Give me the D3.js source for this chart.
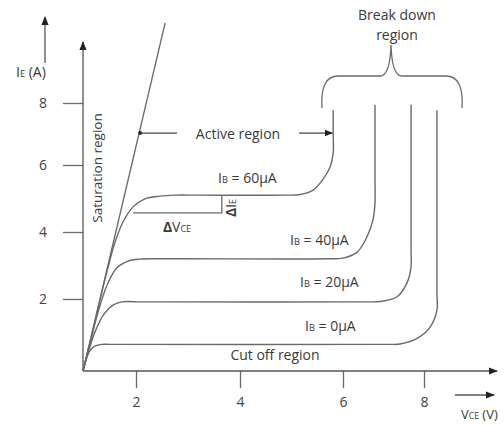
<!DOCTYPE html>
<html><head><meta charset="utf-8">
<script src="https://cdn.jsdelivr.net/npm/d3@7"></script>
<style>body{margin:0;background:#fff} text{font-family:"Open Sans",Lato,sans-serif}</style>
</head><body>
<svg id="c" width="504" height="426"></svg>
<script>
// ---- data ----
const xTicks = [2, 4, 6, 8];
const yTicks = [2, 4, 6, 8];
const seriesLabels = ["60μA", "40μA", "20μA", "0μA"];
const vceIB60 = [0,0.34,0.64,0.94,1.21,1.51,1.89,2.17,2.46,2.75,3.2,4.9,5.17,5.42,5.61,5.75,5.81,5.81,5.81];
const ieIB60  = [0,1.0,1.97,2.93,3.70,4.30,4.75,4.99,5.07,5.1,5.1,5.1,5.12,5.25,5.57,5.94,6.39,7.0,7.77];
const vceIB40 = [0,0.26,0.57,0.91,1.28,1.70,2.08,2.5,5.7,6.0,6.35,6.59,6.74,6.79,6.79,6.79];
const ieIB40  = [0,0.78,1.64,2.42,2.93,3.13,3.19,3.2,3.2,3.22,3.40,3.85,4.36,4.87,5.6,7.94];
const vceIB20 = [0,0.19,0.45,0.79,1.13,1.47,2.08,2.5,6.6,6.91,7.33,7.58,7.68,7.68,7.68];
const ieIB20  = [0,0.5,1.08,1.58,1.83,1.92,1.92,1.92,1.92,1.93,2.06,2.48,2.96,3.46,7.94];
const vceIB0  = [0,0.11,0.26,0.45,0.72,1.0,7.1,7.41,7.85,8.15,8.32,8.32,8.32];
const ieIB0   = [0,0.31,0.56,0.69,0.74,0.74,0.74,0.75,0.92,1.22,1.69,2.17,7.77];
const satVce = [0, 2.56];
const satIe  = [0, 10.58];
const dVceX = [1.89, 3.65]; const dVceY = 4.57; const dIeY = [4.57, 5.08];
const activeX = [2.08, 5.81]; const activeY = 7.03;

// ---- scales ----
const svg = d3.select("#c");
const x = d3.scaleLinear().domain([0,2,4,6,8]).range([83,136,240,343,424]);
const y = d3.scaleLinear().domain([0,2,4,6,8]).range([371,299,232,165,103]);
const ink = "#6a6a6a", txt = "#3a3a3a";

const defs = svg.append("defs");
defs.append("marker").attr("id","ah").attr("viewBox","0 0 10 10").attr("refX",9).attr("refY",5)
  .attr("markerWidth",7).attr("markerHeight",7).attr("orient","auto")
  .append("path").attr("d","M0,1L10,5L0,9Z").attr("fill","#222");

// axes
const ya = svg.append("g").attr("transform","translate(83,0)")
  .call(d3.axisLeft(y).tickValues(yTicks).tickSize(20).tickPadding(16).tickFormat(d3.format("d")));
const xa = svg.append("g").attr("transform","translate(0,371)")
  .call(d3.axisBottom(x).tickValues(xTicks).tickSize(17).tickPadding(9).tickFormat(d3.format("d")));
[ya, xa].forEach(g => {
  g.select(".domain").remove();
  g.selectAll(".tick line").attr("stroke", ink).attr("stroke-width", 1.3);
  g.selectAll(".tick text").attr("fill", "#444").attr("font-size", 14).attr("font-family","'Open Sans'");
});
svg.append("line").attr("x1",x(0)).attr("y1",y(0)).attr("x2",x(0)).attr("y2",42)
  .attr("stroke","#555").attr("stroke-width",1.3).attr("marker-end","url(#ah)");
svg.append("line").attr("x1",x(0)).attr("y1",y(0)).attr("x2",497).attr("y2",y(0))
  .attr("stroke","#555").attr("stroke-width",1.3).attr("marker-end","url(#ah)");
// side arrows
svg.append("line").attr("x1",45).attr("y1",63).attr("x2",45).attr("y2",17)
  .attr("stroke","#555").attr("stroke-width",1.3).attr("marker-end","url(#ah)");
svg.append("line").attr("x1",455).attr("y1",395).attr("x2",494).attr("y2",395)
  .attr("stroke","#555").attr("stroke-width",1.3).attr("marker-end","url(#ah)");

// curves
const line = d3.line().x(d => x(d[0])).y(d => y(d[1])).curve(d3.curveCatmullRom.alpha(0.5));
const series = [[vceIB60, ieIB60],[vceIB40, ieIB40],[vceIB20, ieIB20],[vceIB0, ieIB0]];
series.forEach(([vx, vy]) => {
  svg.append("path").datum(vx.map((v,i)=>[v, vy[i]])).attr("d", line)
    .attr("fill","none").attr("stroke", ink).attr("stroke-width",1.4);
});
// saturation line
svg.append("path").datum(satVce.map((v,i)=>[v, satIe[i]])).attr("d", d3.line().x(d=>x(d[0])).y(d=>y(d[1])))
  .attr("fill","none").attr("stroke", ink).attr("stroke-width",1.3);

// delta box
svg.append("path").datum([[dVceX[0], dVceY],[dVceX[1], dVceY],[dVceX[1], dIeY[1]]])
  .attr("d", d3.line().x(d=>x(d[0])).y(d=>y(d[1]))).attr("fill","none").attr("stroke", ink).attr("stroke-width",1.3);

// active region arrow
svg.append("circle").attr("cx",x(activeX[0])).attr("cy",y(activeY)).attr("r",2).attr("fill","#222");
svg.append("line").attr("x1",x(activeX[0])).attr("y1",y(activeY)).attr("x2",177).attr("y2",y(activeY)).attr("stroke","#444").attr("stroke-width",1.2);
svg.append("line").attr("x1",299).attr("y1",y(activeY)).attr("x2",x(activeX[1])-1).attr("y2",y(activeY))
  .attr("stroke","#444").attr("stroke-width",1.2).attr("marker-end","url(#ah)");

// brace
const b = d3.path();
b.moveTo(322,108); b.quadraticCurveTo(320,76,338,76); b.lineTo(380,76);
b.quadraticCurveTo(390,76,391,45); b.quadraticCurveTo(392,76,402,76); b.lineTo(446,76);
b.quadraticCurveTo(464,76,462,108);
svg.append("path").attr("d", b.toString()).attr("fill","none").attr("stroke", ink).attr("stroke-width",1.3);

// text helpers
function sub(t, parts, size){
  parts.forEach(([s, small]) => t.append("tspan").attr("font-size", small ? size*0.66 : size).text(s));
  return t;
}
const T = (px,py,anchor,fs) => svg.append("text").attr("x",px).attr("y",py).attr("text-anchor",anchor||"middle").attr("fill",txt).attr("font-size",fs||14);

sub(T(16,77,"start"), [["I",0],["E",1],[" (A)",0]], 14);
sub(T(461,419,"start",13), [["V",0],["CE",1],[" (V)",0]], 13);
T(238,139).text("Active region");
T(397,20).text("Break down");
T(397,40).text("region");
T(275,360).text("Cut off region");
svg.append("text").attr("transform","translate(102,168) rotate(-90)").attr("text-anchor","middle")
  .attr("fill",txt).attr("font-size",13.5).text("Saturation region");
const ibPos = [[218,183],[290,245],[300,287],[305,331]];
seriesLabels.forEach((lab,i) => sub(T(ibPos[i][0], ibPos[i][1], "start"), [["I",0],["B",1],[" = "+lab,0]], 14));
const dv = T(177,232);
dv.append("tspan").attr("font-weight","bold").text("Δ");
dv.append("tspan").text("V");
dv.append("tspan").attr("font-size",9).text("CE");
const di = svg.append("text").attr("transform","translate(236,208) rotate(-90)").attr("text-anchor","middle").attr("fill",txt).attr("font-size",14);
di.append("tspan").attr("font-weight","bold").text("Δ");
di.append("tspan").text("I");
di.append("tspan").attr("font-size",9).text("E");
</script>
</body></html>
